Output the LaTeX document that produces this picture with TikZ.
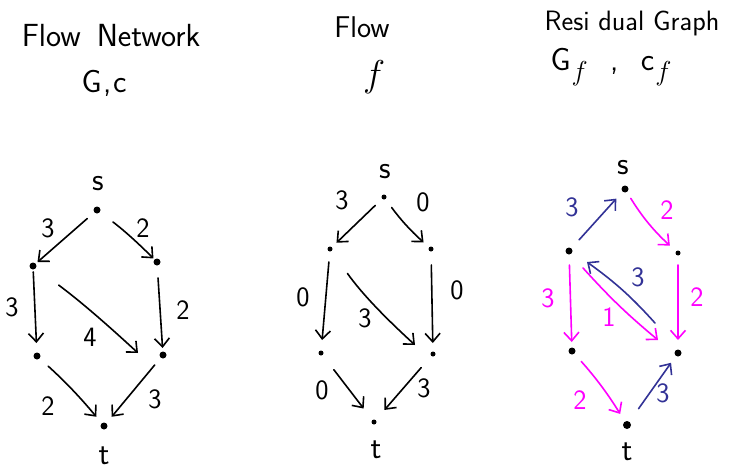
\documentclass[tikz,border=0pt]{standalone}
\usepackage{fontspec}
\usetikzlibrary{arrows.meta}
\definecolor{rblue}{RGB}{50,50,150}
\definecolor{rpink}{RGB}{255,0,255}
\newcommand{\subf}{\kern1pt\raisebox{-10pt}{\scalebox{1.1}{$f$}}}
\tikzset{
  ttl/.style={font=\sffamily\fontsize{#1}{#1}\selectfont, anchor=base, inner sep=0pt},
  lab/.style={font=\sffamily\fontsize{28}{28}\selectfont, inner sep=0pt},
  stlab/.style={font=\sffamily\fontsize{32}{32}\selectfont, inner sep=0pt},
  gdot/.style={circle, fill=black, inner sep=0pt, minimum size=#1},
  gdot/.default=7pt,
  edge/.style={line width=1.6pt, line cap=round, -{Straight Barb[length=8.5pt,width=15pt,line width=1.6pt]}},
}
\begin{document}
\begin{tikzpicture}[x=1pt,y=-1pt]
\useasboundingbox (0,0) rectangle (733,471);
% ---------- titles ----------
\node[ttl=32] (t1) at (111,46) {Flow\hspace{0.5em}Network};
\node[ttl=32] (t1b) at (104,92) {G\hspace{0.05em},\hspace{0.05em}c};
\node[ttl=30] (t2) at (362,37) {Flow};
\node[ttl=20] (t2b) at (374,86) {\scalebox{1.8}{$f$}};
\node[ttl=28] (t3) at (632,30) {Resi dual Graph};
\node[ttl=32] (t3b) at (611,70) {G\subf\hspace{0.7em},\hspace{0.7em}c\subf};
% ---------- left graph: flow network ----------
\node[gdot] (Ls) at (97,210) {};
\node[gdot] (La) at (33,266) {};
\node[gdot] (Lb) at (157,262) {};
\node[gdot] (Lc) at (37,356) {};
\node[gdot] (Ld) at (163,355) {};
\node[gdot] (Lt) at (104,426) {};
\node[stlab] (Lsl) at (98,184) {s};
\node[stlab] (Ltl) at (104,456) {t};
\draw[edge, shorten <=13pt, shorten >=6pt] (Ls.center) -- (La.center);
\draw[edge, shorten <=20pt, shorten >=5pt] (Ls.center) to[bend left=4] (Lb.center);
\draw[edge, shorten <=6pt, shorten >=13pt] (La.center) -- (Lc.center);
\draw[edge, shorten <=32pt] (La.center) to[bend left=3] ([shift={(-25,-2)}]Ld.center);
\draw[edge, shorten <=16pt, shorten >=7pt] (Lb.center) -- (Ld.center);
\draw[edge, shorten <=15pt, shorten >=12pt] (Lc.center) to[bend left=4] (Lt.center);
\draw[edge, shorten <=13pt, shorten >=12pt] (Ld.center) -- (Lt.center);
\node[lab] (L1) at (48,228) {3};
\node[lab] (L2) at (143,228) {2};
\node[lab] (L3) at (12,307) {3};
\node[lab] (L4) at (90,337) {4};
\node[lab] (L5) at (183,310) {2};
\node[lab] (L6) at (48,406) {2};
\node[lab] (L7) at (155,399) {3};
% ---------- middle graph: flow ----------
\node[gdot=5pt] (Ms) at (384,197) {};
\node[gdot=5pt] (Ma) at (330,249) {};
\node[gdot=5pt] (Mb) at (431,249) {};
\node[gdot=5pt] (Mc) at (321,353) {};
\node[gdot=5pt] (Md) at (433,354) {};
\node[gdot=5pt] (Mt) at (374,422) {};
\node[stlab] (Msl) at (385,172) {s};
\node[stlab] (Mtl) at (376,450) {t};
\draw[edge, shorten <=12pt, shorten >=9pt] (Ms.center) -- (Ma.center);
\draw[edge, shorten <=13pt, shorten >=10pt] (Ms.center) to[bend right=6] (Mb.center);
\draw[edge, shorten <=13pt, shorten >=13pt] (Ma.center) -- (Mc.center);
\draw[edge, shorten <=16pt, shorten >=11pt] (Mb.center) -- (Md.center);
\draw[edge, shorten <=30pt] (Ma.center) to[bend right=6] ([shift={(-18,-9)}]Md.center);
\draw[edge, shorten <=21pt, shorten >=17pt] (Mc.center) -- (Mt.center);
\draw[edge, shorten <=18pt, shorten >=16pt] (Md.center) -- (Mt.center);
\node[lab] (M1) at (342,200) {3};
\node[lab] (M2) at (423,202) {0};
\node[lab] (M3) at (303,297) {0};
\node[lab] (M4) at (365,318) {3};
\node[lab] (M5) at (457,290) {0};
\node[lab] (M6) at (322,390) {0};
\node[lab] (M7) at (424,388) {3};
% ---------- right graph: residual ----------
\node[gdot] (Rs) at (625,189) {};
\node[gdot] (Ra) at (569,251) {};
\node[gdot=5pt] (Rb) at (678,253) {};
\node[gdot] (Rc) at (572,351) {};
\node[gdot] (Rd) at (678,353) {};
\node[gdot=8pt] (Rt) at (627,425) {};
\node[stlab] (Rsl) at (623,168) {s};
\node[stlab] (Rtl) at (627,452) {t};
\draw[edge, rblue, shorten <=15pt, shorten >=13pt] (Ra.center) -- (Rs.center);
\draw[edge, rpink, shorten <=11pt, shorten >=11pt] (Rs.center) to[bend right=8] (Rb.center);
\draw[edge, rpink, shorten <=14pt, shorten >=9pt] (Ra.center) -- (Rc.center);
\draw[edge, rpink, shorten <=12pt, shorten >=13pt] (Rb.center) -- (Rd.center);
\draw[edge, rblue] ([shift={(-23,-30)}]Rd.center) to[bend right=6] ([shift={(18,11)}]Ra.center);
\draw[edge, rpink] ([shift={(14,17)}]Ra.center) to[bend right=4] ([shift={(-20,-13)}]Rd.center);
\draw[edge, rpink, shorten <=14pt, shorten >=13pt] (Rc.center) to[bend left=5] (Rt.center);
\draw[edge, rblue, shorten <=20pt, shorten >=12pt] (Rt.center) -- (Rd.center);
\node[lab, text=rblue] (R1) at (572,207) {3};
\node[lab, text=rpink] (R2) at (667,210) {2};
\node[lab, text=rpink] (R3) at (548,298) {3};
\node[lab, text=rblue] (R4) at (638,277) {3};
\node[lab, text=rpink] (R5) at (609,317) {1};
\node[lab, text=rpink] (R6) at (697,297) {2};
\node[lab, text=rpink] (R7) at (580,400) {2};
\node[lab, text=rblue] (R8) at (663,393) {3};
\end{tikzpicture}
\end{document}
